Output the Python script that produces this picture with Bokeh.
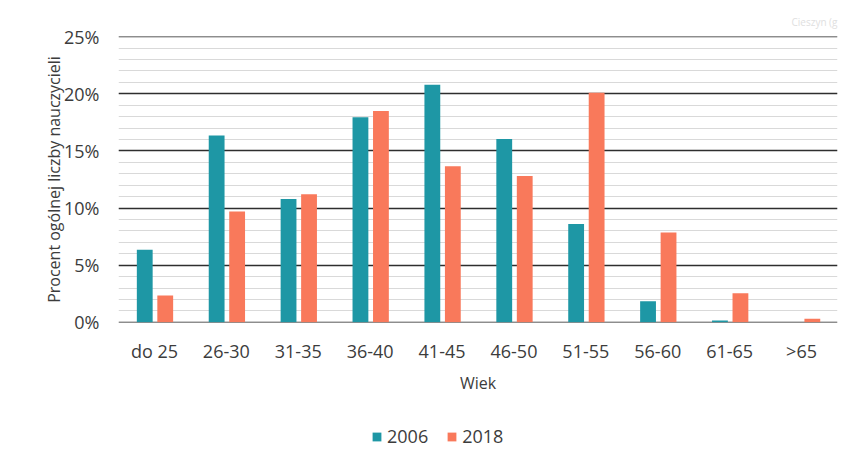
from bokeh.plotting import figure
from bokeh.models import (ColumnDataSource, FactorRange, Range1d, SingleIntervalTicker,
                          PrintfTickFormatter, Legend, LegendItem, Title)
from bokeh.layouts import column
from bokeh.transform import dodge
from bokeh.embed import file_html
from bokeh.resources import INLINE

categories = ["do 25", "26-30", "31-35", "36-40", "41-45", "46-50", "51-55", "56-60", "61-65", ">65"]
values_2006 = [6.35, 16.35, 10.8, 17.95, 20.8, 16.05, 8.6, 1.85, 0.15, 0.0]
values_2018 = [2.35, 9.7, 11.2, 18.5, 13.65, 12.8, 20.1, 7.85, 2.55, 0.3]
series_names = ["2006", "2018"]
y_title = "Procent ogólnej liczby nauczycieli"
x_title = "Wiek"
corner_note = "Cieszyn (g"
y_ticks_interval = 5

FONT = "Open Sans"
TEXT = "#3c3c3c"
TEAL = "#1E97A5"
ORANGE = "#F9795B"

src = ColumnDataSource(data=dict(cat=categories, v2006=values_2006, v2018=values_2018))

p = figure(width=838, height=410, x_range=FactorRange(*categories), y_range=Range1d(-0.02, 25.02),
           output_backend="svg", toolbar_location=None,
           min_border_left=118, min_border_right=1, min_border_top=36, min_border_bottom=88)
p.outline_line_color = None
p.background_fill_color = "white"
p.border_fill_color = "white"

p.add_layout(Title(text=corner_note, align="right", text_font=FONT, text_font_size="10px",
                   text_font_style="normal", text_color="#e0e0e0", standoff=16), "above")

r1 = p.vbar(x=dodge("cat", -0.135, range=p.x_range), top="v2006", width=0.22, source=src,
            fill_color=TEAL, line_color=None)
r2 = p.vbar(x=dodge("cat", 0.15, range=p.x_range), top="v2018", width=0.22, source=src,
            fill_color=ORANGE, line_color=None)

# y axis
p.yaxis.ticker = SingleIntervalTicker(interval=y_ticks_interval, num_minor_ticks=5)
p.yaxis.formatter = PrintfTickFormatter(format="%d%%")
p.yaxis.axis_line_color = None
p.yaxis.major_tick_line_color = None
p.yaxis.minor_tick_line_color = None
p.yaxis.major_label_standoff = 13
p.yaxis.major_label_text_font = FONT
p.yaxis.major_label_text_font_size = "18px"
p.yaxis.major_label_text_color = TEXT
p.yaxis.axis_label = y_title
p.yaxis.axis_label_text_font = FONT
p.yaxis.axis_label_text_font_size = "16px"
p.yaxis.axis_label_text_font_style = "normal"
p.yaxis.axis_label_text_color = TEXT
p.yaxis.axis_label_standoff = -4

# x axis
p.xaxis.axis_line_color = None
p.xaxis.major_tick_line_color = None
p.xaxis.minor_tick_line_color = None
p.xaxis.major_label_standoff = 10
p.xaxis.major_label_text_font = FONT
p.xaxis.major_label_text_font_size = "18px"
p.xaxis.major_label_text_color = TEXT
p.xaxis.axis_label = x_title
p.xaxis.axis_label_text_font = FONT
p.xaxis.axis_label_text_font_size = "16px"
p.xaxis.axis_label_text_font_style = "normal"
p.xaxis.axis_label_text_color = TEXT
p.xaxis.axis_label_standoff = 6

# grid
p.xgrid.grid_line_color = None
p.ygrid.grid_line_color = "#2e2e2e"
p.ygrid.grid_line_width = 1.5
p.ygrid.minor_grid_line_color = "#d9d9d9"
p.ygrid.minor_grid_line_width = 1

# legend strip below the chart
leg = figure(width=838, height=49, x_range=Range1d(0, 1), y_range=Range1d(0, 1),
             output_backend="svg", toolbar_location=None,
             min_border_left=0, min_border_right=0, min_border_top=0, min_border_bottom=0)
leg.axis.visible = False
leg.grid.visible = False
leg.outline_line_color = None
lr1 = leg.vbar(x=[0.5], bottom=[0], top=[0], width=0.1, fill_color=TEAL, line_color=None)
lr2 = leg.vbar(x=[0.5], bottom=[0], top=[0], width=0.1, fill_color=ORANGE, line_color=None)
legend = Legend(items=[LegendItem(label=series_names[0], renderers=[lr1]),
                       LegendItem(label=series_names[1], renderers=[lr2])],
                location=(253, 11), orientation="horizontal",
                label_text_font=FONT, label_text_font_size="18px", label_text_color=TEXT,
                glyph_width=11, glyph_height=11, label_standoff=5, spacing=18,
                padding=0, margin=0, border_line_color=None, background_fill_alpha=0)
leg.add_layout(legend)

open("out.html", "w").write(file_html(column(p, leg), INLINE))
